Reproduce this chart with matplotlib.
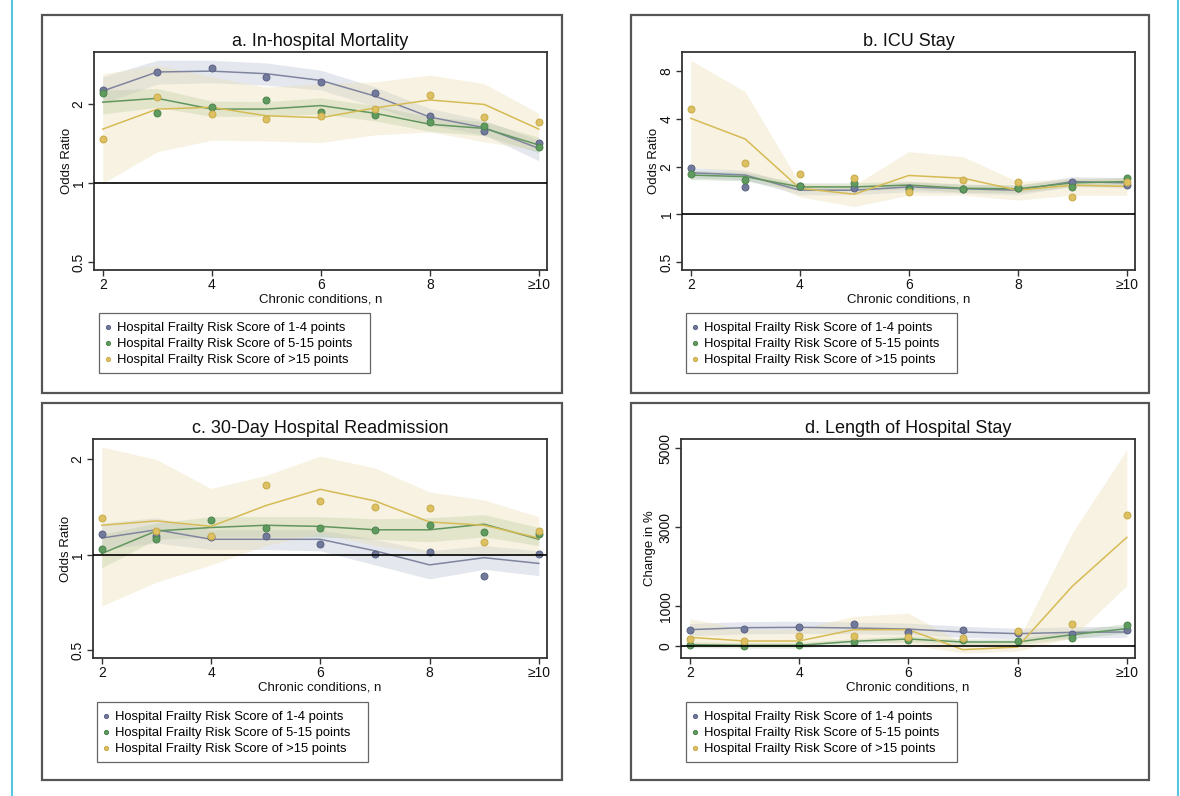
import numpy as np
import matplotlib
matplotlib.use("Agg")
import matplotlib.pyplot as plt
from matplotlib.patches import Rectangle
from matplotlib.lines import Line2D

plt.rcParams['font.family'] = ['Liberation Sans', 'DejaVu Sans']

# x positions: chronic conditions 2 .. >=10
n_cond = [2, 3, 4, 5, 6, 7, 8, 9, 10]
x_ticks = [2, 4, 6, 8, 10]
x_ticklabels = ['2', '4', '6', '8', '≥10']

series_names = ['Hospital Frailty Risk Score of 1-4 points',
                'Hospital Frailty Risk Score of 5-15 points',
                'Hospital Frailty Risk Score of >15 points']

# a. In-hospital mortality (odds ratio)
a_blue_pt = [2.27, 2.65, 2.75, 2.54, 2.44, 2.21, 1.80, 1.59, 1.42]
a_blue_fit = [2.25, 2.66, 2.68, 2.62, 2.47, 2.15, 1.79, 1.63, 1.36]
a_blue_lo = [2.02, 2.39, 2.42, 2.37, 2.27, 1.96, 1.67, 1.53, 1.22]
a_blue_hi = [2.55, 2.95, 2.95, 2.88, 2.70, 2.33, 1.93, 1.74, 1.46]
a_green_pt = [2.21, 1.85, 1.95, 2.08, 1.87, 1.82, 1.71, 1.65, 1.38]
a_green_fit = [2.04, 2.11, 1.92, 1.92, 1.98, 1.85, 1.68, 1.62, 1.40]
a_green_lo = [1.84, 1.95, 1.80, 1.80, 1.84, 1.73, 1.58, 1.52, 1.31]
a_green_hi = [2.27, 2.30, 2.06, 2.05, 2.12, 1.98, 1.79, 1.72, 1.50]
a_yel_pt = [1.47, 2.13, 1.84, 1.76, 1.81, 1.92, 2.18, 1.79, 1.72]
a_yel_fit = [1.61, 1.92, 1.95, 1.81, 1.78, 1.94, 2.08, 2.00, 1.61]
a_yel_lo = [1.00, 1.32, 1.46, 1.45, 1.43, 1.53, 1.57, 1.44, 1.34]
a_yel_hi = [2.62, 2.82, 2.55, 2.33, 2.40, 2.44, 2.59, 2.40, 1.85]

# b. ICU stay (odds ratio)
b_blue_pt = [1.97, 1.49, 1.52, 1.46, 1.46, 1.45, 1.46, 1.61, 1.53]
b_blue_fit = [1.83, 1.77, 1.42, 1.42, 1.49, 1.45, 1.42, 1.61, 1.58]
b_blue_lo = [1.70, 1.65, 1.33, 1.33, 1.39, 1.36, 1.33, 1.50, 1.47]
b_blue_hi = [1.97, 1.90, 1.52, 1.52, 1.60, 1.55, 1.52, 1.73, 1.70]
b_green_pt = [1.79, 1.65, 1.52, 1.58, 1.45, 1.45, 1.46, 1.49, 1.70]
b_green_fit = [1.77, 1.73, 1.49, 1.49, 1.53, 1.46, 1.45, 1.58, 1.61]
b_green_lo = [1.66, 1.63, 1.41, 1.41, 1.45, 1.38, 1.37, 1.49, 1.52]
b_green_hi = [1.89, 1.84, 1.58, 1.58, 1.62, 1.55, 1.54, 1.67, 1.71]
b_yel_pt = [4.60, 2.10, 1.81, 1.69, 1.39, 1.65, 1.61, 1.29, 1.59]
b_yel_fit = [4.04, 2.99, 1.46, 1.34, 1.76, 1.69, 1.42, 1.53, 1.50]
b_yel_lo = [2.00, 1.81, 1.29, 1.12, 1.32, 1.32, 1.23, 1.32, 1.32]
b_yel_hi = [9.40, 5.95, 1.57, 1.53, 2.49, 2.31, 1.61, 1.69, 1.69]

# c. 30-day hospital readmission (odds ratio)
c_blue_pt = [1.16, 1.15, 1.14, 1.15, 1.08, 1.01, 1.02, 0.86, 1.01]
c_blue_fit = [1.13, 1.20, 1.12, 1.12, 1.12, 1.03, 0.93, 0.98, 0.94]
c_blue_lo = [1.04, 1.09, 1.04, 1.04, 1.03, 0.93, 0.84, 0.90, 0.86]
c_blue_hi = [1.26, 1.31, 1.20, 1.20, 1.20, 1.12, 1.03, 1.07, 1.03]
c_green_pt = [1.04, 1.12, 1.29, 1.22, 1.22, 1.20, 1.24, 1.18, 1.16]
c_green_fit = [1.01, 1.19, 1.22, 1.24, 1.23, 1.20, 1.20, 1.25, 1.12]
c_green_lo = [0.91, 1.12, 1.14, 1.14, 1.14, 1.12, 1.10, 1.14, 1.07]
c_green_hi = [1.16, 1.26, 1.32, 1.32, 1.32, 1.30, 1.31, 1.34, 1.22]
c_yel_pt = [1.31, 1.19, 1.15, 1.66, 1.48, 1.42, 1.41, 1.10, 1.19]
c_yel_fit = [1.24, 1.28, 1.23, 1.43, 1.61, 1.48, 1.27, 1.24, 1.13]
c_yel_lo = [0.69, 0.82, 0.93, 1.07, 1.17, 1.07, 1.01, 1.01, 0.99]
c_yel_hi = [2.19, 2.00, 1.62, 1.78, 2.05, 1.88, 1.58, 1.49, 1.32]

# d. length of hospital stay (change in %)
d_blue_pt = [405, 420, 464, 548, 346, 405, 320, 295, 388]
d_blue_fit = [405, 455, 464, 447, 420, 346, 304, 337, 346]
d_blue_lo = [250, 300, 310, 300, 280, 210, 170, 200, 210]
d_blue_hi = [560, 610, 620, 600, 570, 490, 440, 480, 490]
d_green_pt = [25, 0, 25, 84, 135, 135, 110, 186, 514]
d_green_fit = [25, 8, 8, 110, 169, 93, 93, 278, 430]
d_green_lo = [-50, -60, -60, 40, 90, 20, 20, 180, 320]
d_green_hi = [100, 80, 80, 180, 250, 170, 170, 380, 560]
d_yel_pt = [170, 118, 253, 253, 211, 186, 380, 548, 3314]
d_yel_fit = [211, 118, 118, 405, 405, -101, -34, 1500, 2740]
d_yel_lo = [0, -20, -20, 150, 25, -185, -143, 200, 1518]
d_yel_hi = [683, 420, 420, 742, 826, 67, 110, 2850, 4958]

pt_colors = ['#727a9c', '#5f9a5f', '#dcc062']
pt_edges = ['#5a6184', '#4c844c', '#c9aa48']
line_colors = ['#80859f', '#62965f', '#d6bb55']
band_colors = ['#8d92b4', '#86ad74', '#e9dcae']
band_alpha = [0.22, 0.25, 0.35]

W, H = 1180, 796
fig = plt.figure(figsize=(W / 100, H / 100), dpi=100)


def fx(px):
    return px / W


def fy(py):
    return 1 - py / H


# cyan side rules of the page
fig.add_artist(Line2D([fx(12), fx(12)], [0, 1], color='#55c6de', lw=1.5))
fig.add_artist(Line2D([fx(1178), fx(1178)], [0, 1], color='#55c6de', lw=1.5))

# outer boxes around each panel
for (x0, y0, x1, y1) in [(42, 15, 562, 393), (631, 15, 1149, 393),
                         (42, 403, 562, 780), (631, 403, 1149, 780)]:
    fig.add_artist(Rectangle((fx(x0), fy(y1)), fx(x1 - x0), (y1 - y0) / H,
                             fill=False, edgecolor='#555555', lw=1.6))


def panel(box, title, ylabel, pts, fits, los, his, logy, ylim, yticks, yticklabels,
          refy, legpos, ylab_off):
    x0, y0, x1, y1 = box
    ax = fig.add_axes([fx(x0), fy(y1), fx(x1 - x0), (y1 - y0) / H])
    if logy:
        ax.set_yscale('log')
    for i in range(3):
        ax.fill_between(n_cond, los[i], his[i], color=band_colors[i],
                        alpha=band_alpha[i], lw=0, zorder=1)
    for i in range(3):
        ax.plot(n_cond, fits[i], color=line_colors[i], lw=1.1, zorder=3)
    for i in range(3):
        ax.plot(n_cond, pts[i], 'o', color=pt_colors[i], ms=5,
                mec=pt_edges[i], mew=0.7, zorder=4, label=series_names[i])
    ax.axhline(refy, color='black', lw=1.2, zorder=5)
    ax.set_xlim(1.84, 10.15)
    ax.set_ylim(*ylim)
    ax.set_xticks(x_ticks)
    ax.set_xticklabels(x_ticklabels)
    ax.set_yticks(yticks)
    ax.set_yticklabels(yticklabels, rotation=90, va='center')
    ax.yaxis.set_minor_locator(matplotlib.ticker.NullLocator())
    ax.tick_params(axis='both', direction='out', length=4, width=1,
                   color='#333333', labelsize=10, labelcolor='#111111', pad=2)
    for s in ax.spines.values():
        s.set_color('#333333')
        s.set_linewidth(1.3)
    ax.set_title(title, fontsize=13, pad=4, color='#111111')
    ax.set_ylabel(ylabel, fontsize=9.5, color='#111111')
    ax.yaxis.set_label_coords(ylab_off / (x1 - x0), 0.5)
    ax.set_xlabel('Chronic conditions, n', fontsize=9.5, color='#111111')
    ax.xaxis.set_label_coords(0.5, -23 / (y1 - y0))

    # legend box drawn separately, entries placed inside it
    lx, ly = legpos
    fig.add_artist(Rectangle((fx(lx), fy(ly + 60)), fx(271), 60 / H, fill=False,
                             edgecolor='#666666', lw=0.9))
    ax.legend(loc='upper left', bbox_to_anchor=(fx(lx), fy(ly + 4)),
              bbox_transform=fig.transFigure, fontsize=9.4, frameon=False,
              markerscale=0.6, handlelength=0.6, handletextpad=0.4,
              borderpad=0.4, labelspacing=0.3, borderaxespad=0)
    return ax


panel((94, 52, 547, 270), 'a. In-hospital Mortality', 'Odds Ratio',
      [a_blue_pt, a_green_pt, a_yel_pt], [a_blue_fit, a_green_fit, a_yel_fit],
      [a_blue_lo, a_green_lo, a_yel_lo], [a_blue_hi, a_green_hi, a_yel_hi],
      True, (0.467, 3.17), [0.5, 1, 2], ['0.5', '1', '2'], 1, (99, 313), -21)

panel((682, 52, 1135, 270), 'b. ICU Stay', 'Odds Ratio',
      [b_blue_pt, b_green_pt, b_yel_pt], [b_blue_fit, b_green_fit, b_yel_fit],
      [b_blue_lo, b_green_lo, b_yel_lo], [b_blue_hi, b_green_hi, b_yel_hi],
      True, (0.445, 10.6), [0.5, 1, 2, 4, 8], ['0.5', '1', '2', '4', '8'], 1,
      (686, 313), -22)

panel((93, 439, 547, 658), 'c. 30-Day Hospital Readmission', 'Odds Ratio',
      [c_blue_pt, c_green_pt, c_yel_pt], [c_blue_fit, c_green_fit, c_yel_fit],
      [c_blue_lo, c_green_lo, c_yel_lo], [c_blue_hi, c_green_hi, c_yel_hi],
      True, (0.473, 2.32), [0.5, 1, 2], ['0.5', '1', '2'], 1, (97, 702), -21)

panel((681, 439, 1135, 658), 'd. Length of Hospital Stay', 'Change in %',
      [d_blue_pt, d_green_pt, d_yel_pt], [d_blue_fit, d_green_fit, d_yel_fit],
      [d_blue_lo, d_green_lo, d_yel_lo], [d_blue_hi, d_green_hi, d_yel_hi],
      False, (-312, 5228), [0, 1000, 3000, 5000], ['0', '1000', '3000', '5000'], 0,
      (686, 702), -25)

fig.savefig('out.png', dpi=100)
